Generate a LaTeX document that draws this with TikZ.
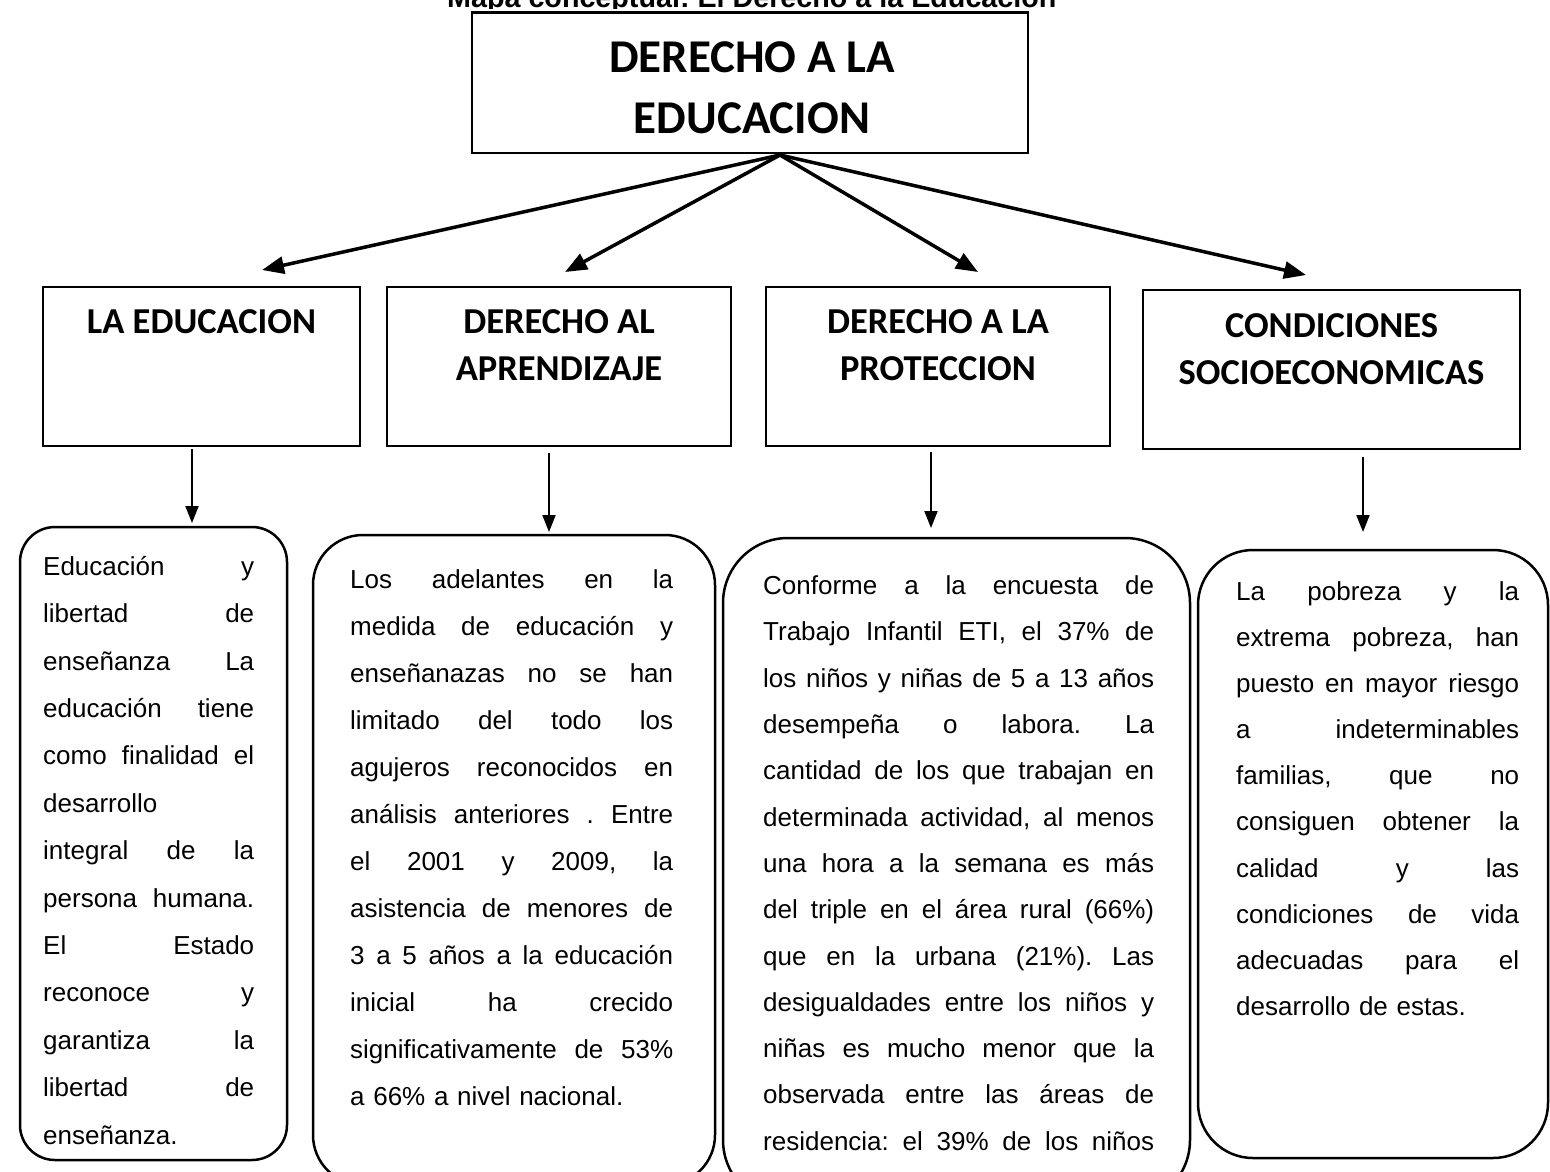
\documentclass[tikz,border=0pt]{standalone}
\usepackage{fontspec}
\setmainfont{Liberation Sans}
\newfontfamily\headfont{Carlito}
\usetikzlibrary{arrows.meta,positioning}
\setlength{\parindent}{0pt}
\frenchspacing

\newlength\colw
\newcommand\jline[1]{\hbox to \colw{\spaceskip=0.278em plus 1fil\strut #1}\par}
\newcommand\lline[1]{\hbox to \colw{\strut #1\hfil}\par}

\begin{document}
\begin{tikzpicture}[x=1pt, y=-1pt, node distance = 0mm and 5mm,
    conbox/.style={rectangle,draw=black,line width=2.5pt,inner sep=0pt,outer sep=0pt},
    infobox/.style={rectangle,rounded corners=#1,draw=black,line width=2.5pt,inner sep=0pt,outer sep=0pt},
    maintext/.style={inner sep=0pt,align=center,font=\headfont\bfseries\fontsize{47}{61}\selectfont},
    headtext/.style={inner sep=0pt,align=center,font=\headfont\bfseries\fontsize{36.5}{47}\selectfont},
    bodytext/.style={anchor=north west,inner sep=0pt,align=left,text width=#1,execute at begin node={\setlength{\colw}{#1}}},
    spoke/.style={line width=3.5pt,-{Triangle[length=22pt,width=17pt]}},
    downarrow/.style={line width=2pt,-{Triangle[length=17pt,width=13pt]}},
   ]
    \useasboundingbox (0,0) rectangle (1550,1171);

    \begin{scope}
      \clip (0,0) rectangle (1550,8);
      \node (maptitle) [anchor=base west,inner sep=0pt,font=\bfseries\fontsize{28.7}{34}\selectfont] at (447,7) {Mapa conceptual: El Derecho a la Educación};
    \end{scope}

    \node (main) [conbox,minimum width=556pt,minimum height=140.5pt] at (750,82.75) {};
    \node (main-t) [maintext,below=16.8pt of main.north,xshift=2pt] {\strut DERECHO A LA\\\strut EDUCACION};

    \node (edu) [conbox,minimum width=317pt,minimum height=159pt] at (201.5,366.5) {};
    \node (apr) [conbox,minimum width=344pt,minimum height=159pt,right=27pt of edu] {};
    \node (pro) [conbox,minimum width=344pt,minimum height=159pt,right=35pt of apr] {};
    \node (soc) [conbox,minimum width=377pt,minimum height=159pt,right=33pt of pro,yshift=-3pt] {};

    \node (edu-t) [headtext,below=13.6pt of edu.north] {\strut LA EDUCACION};
    \node (apr-t) [headtext,below=13.6pt of apr.north] {\strut DERECHO AL\\\strut APRENDIZAJE};
    \node (pro-t) [headtext,below=13.6pt of pro.north] {\strut DERECHO A LA\\\strut PROTECCION};
    \node (soc-t) [headtext,below=14.6pt of soc.north] {\strut CONDICIONES\\\strut SOCIOECONOMICAS};

    \node (c1) [infobox=35pt,minimum width=267pt,minimum height=633pt] at (153.5,843.5) {};
    \node (c2) [infobox=50pt,minimum width=402pt,minimum height=650pt] at (514,860) {};
    \node (c3) [infobox=65pt,minimum width=467pt,minimum height=667pt] at (956.5,871.5) {};
    \node (c4) [infobox=55pt,minimum width=350pt,minimum height=608pt] at (1373,854) {};

    \node (c1-t) [bodytext=211pt,font=\fontsize{26}{47.4}\selectfont] at (43,542) {%
      \jline{Educación y}\jline{libertad de}\jline{enseñanza La}
      \jline{educación tiene}\jline{como finalidad el}\lline{desarrollo}
      \jline{integral de la}\jline{persona humana.}\jline{El Estado}
      \jline{reconoce y}\jline{garantiza la}\jline{libertad de}
      \lline{enseñanza.}};
    \node (c2-t) [bodytext=323pt,font=\fontsize{26}{47}\selectfont] at (350,555) {%
      \jline{Los adelantes en la}\jline{medida de educación y}
      \jline{enseñanazas no se han}\jline{limitado del todo los}
      \jline{agujeros reconocidos en}\jline{análisis anteriores . Entre}
      \jline{el 2001 y 2009, la}\jline{asistencia de menores de}
      \jline{3 a 5 años a la educación}\jline{inicial ha crecido}
      \jline{significativamente de 53\%}\lline{a 66\% a nivel nacional.}};
    \node (c3-t) [bodytext=391pt,font=\fontsize{26}{46.3}\selectfont] at (763,562) {%
      \jline{Conforme a la encuesta de}\jline{Trabajo Infantil ETI, el 37\% de}
      \jline{los niños y niñas de 5 a 13 años}\jline{desempeña o labora. La}
      \jline{cantidad de los que trabajan en}\jline{determinada actividad, al menos}
      \jline{una hora a la semana es más}\jline{del triple en el área rural (66\%)}
      \jline{que en la urbana (21\%). Las}\jline{desigualdades entre los niños y}
      \jline{niñas es mucho menor que la}\jline{observada entre las áreas de}
      \jline{residencia: el 39\% de los niños}};
    \node (c4-t) [bodytext=283pt,font=\fontsize{26}{46.1}\selectfont] at (1236,568) {%
      \jline{La pobreza y la}\jline{extrema pobreza, han}
      \jline{puesto en mayor riesgo}\jline{a indeterminables}
      \jline{familias, que no}\jline{consiguen obtener la}
      \jline{calidad y las}\jline{condiciones de vida}
      \jline{adecuadas para el}\lline{desarrollo de estas.}};

    \coordinate (hub) at ([xshift=30pt,yshift=-2pt]main.south);
    \coordinate (to-edu) at ([xshift=60.5pt,yshift=17pt]edu.north);
    \coordinate (to-apr) at ([xshift=6pt,yshift=15pt]apr.north);
    \coordinate (to-pro) at ([xshift=40pt,yshift=15pt]pro.north);
    \coordinate (to-soc) at ([xshift=-25.5pt,yshift=15pt]soc.north);

    \draw[spoke] (hub) -- (to-edu);
    \draw[spoke] (hub) -- (to-apr);
    \draw[spoke] (hub) -- (to-pro);
    \draw[spoke] (hub) -- (to-soc);

    \draw[downarrow] ([xshift=-9.5pt,yshift=-3pt]edu.south) -- ([xshift=38.5pt,yshift=4pt]c1.north);
    \draw[downarrow] ([xshift=-10pt,yshift=-7pt]apr.south) -- ([xshift=35pt,yshift=3pt]c2.north);
    \draw[downarrow] ([xshift=-7pt,yshift=-6pt]pro.south) -- ([xshift=-25.5pt,yshift=10pt]c3.north);
    \draw[downarrow] ([xshift=31.5pt,yshift=-8pt]soc.south) -- ([xshift=-10pt,yshift=18pt]c4.north);
   \end{tikzpicture}
\end{document}
